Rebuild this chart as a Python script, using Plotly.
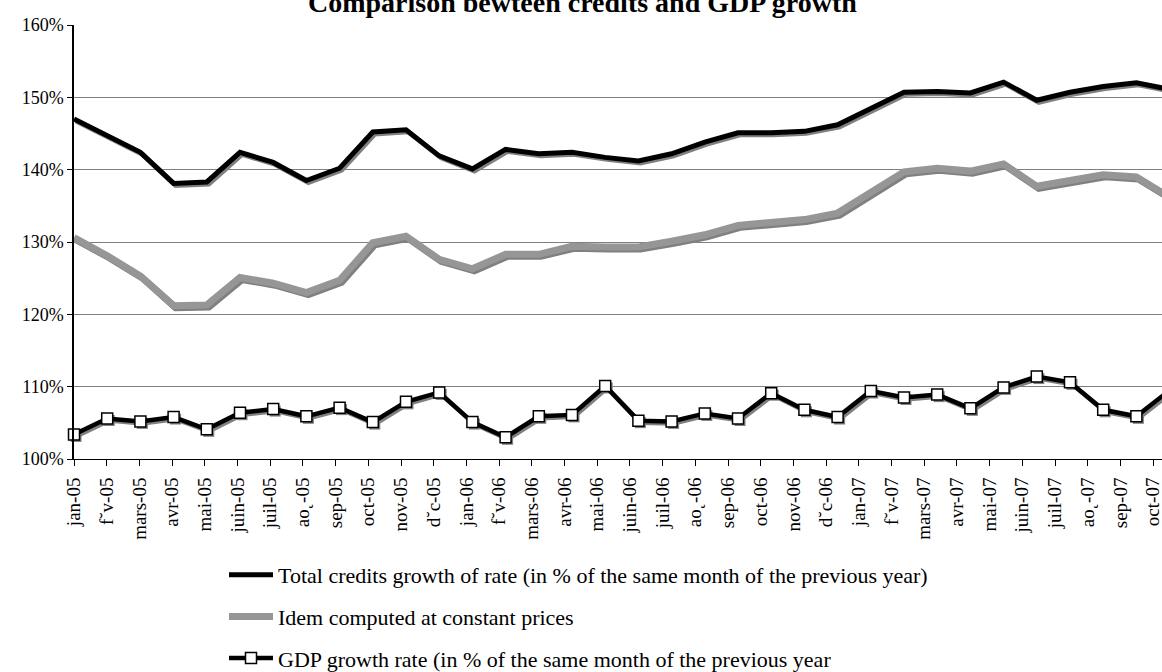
import plotly.graph_objects as go

# Monthly observations, January 2005 to October 2007
months = [
    "jan-05", "f˘v-05", "mars-05", "avr-05", "mai-05", "juin-05", "juil-05", "ao˛-05",
    "sep-05", "oct-05", "nov-05", "d˘c-05",
    "jan-06", "f˘v-06", "mars-06", "avr-06", "mai-06", "juin-06", "juil-06", "ao˛-06",
    "sep-06", "oct-06", "nov-06", "d˘c-06",
    "jan-07", "f˘v-07", "mars-07", "avr-07", "mai-07", "juin-07", "juil-07", "ao˛-07",
    "sep-07", "oct-07",
]

# Growth indices, in % of the same month of the previous year
total_credits = [
    147.0, 144.7, 142.4, 138.1, 138.3, 142.4, 141.0, 138.5, 140.2, 145.2, 145.5, 141.9,
    140.1, 142.8, 142.2, 142.4, 141.7, 141.2, 142.2, 143.8, 145.1, 145.1, 145.3, 146.2,
    148.4, 150.7, 150.8, 150.6, 152.1, 149.6, 150.7, 151.5, 152.0, 151.1,
]
constant_prices = [
    130.6, 128.1, 125.3, 121.2, 121.3, 125.1, 124.3, 123.0, 124.7, 129.9, 130.8, 127.6,
    126.3, 128.3, 128.3, 129.4, 129.3, 129.3, 130.1, 131.0, 132.3, 132.7, 133.1, 134.0,
    136.8, 139.7, 140.2, 139.8, 140.8, 137.7, 138.5, 139.3, 139.0, 136.2,
]
gdp_growth = [
    103.4, 105.6, 105.2, 105.8, 104.1, 106.4, 106.9, 105.9, 107.1, 105.1, 107.9, 109.2,
    105.1, 103.0, 105.9, 106.1, 110.1, 105.3, 105.2, 106.3, 105.6, 109.1, 106.8, 105.8,
    109.4, 108.5, 108.9, 107.0, 109.9, 111.4, 110.6, 106.8, 105.9, 109.5,
]

y_ticks = [100, 110, 120, 130, 140, 150, 160]
y_tick_text = ["100%", "110%", "120%", "130%", "140%", "150%", "160%"]

W, H = 1162, 672
M_L, M_R, M_T, M_B = 74, 0, 25, 213
plot_w = W - M_L - M_R
plot_h = H - M_T - M_B

FONT = "Liberation Serif"
BLACK = "#000000"
GREY = "#969696"
SHADOW = "#808080"

# pixel spacing of the category labels vs. the plotted points
label_step = 32.7
point_step = 33.2
label_range = [0, plot_w / label_step]
point_range = [0, plot_w / point_step]

# drop shadow offset (px)
sh_dx, sh_dy = 2.0, 2.0
y_range = [100, 160]
px_per_unit = plot_h / (y_range[1] - y_range[0])
shadow_x_range = [point_range[0] - sh_dx / point_step, point_range[1] - sh_dx / point_step]
shadow_y_range = [y_range[0] + sh_dy / px_per_unit, y_range[1] + sh_dy / px_per_unit]

series = [
    ("Total credits growth of rate (in % of the same month of the previous year)",
     total_credits, BLACK, 5, False),
    ("Idem computed at constant prices", constant_prices, GREY, 7, False),
    ("GDP growth rate (in % of the same month of the previous year",
     gdp_growth, BLACK, 4.5, True),
]

fig = go.Figure()

# category axis carrying the month labels
fig.add_trace(go.Scatter(
    x=list(range(len(months))), y=[None] * len(months), xaxis="x", yaxis="y",
    mode="lines", showlegend=False, hoverinfo="skip",
))

# drop shadows
for name, vals, color, width, markers in series:
    fig.add_trace(go.Scatter(
        x=months, y=vals, xaxis="x2", yaxis="y2",
        mode="lines+markers" if markers else "lines",
        line=dict(color=SHADOW, width=width),
        marker=dict(symbol="square", size=11, color=SHADOW, line=dict(width=0)),
        showlegend=False, hoverinfo="skip", cliponaxis=False,
    ))

# main series
for i, (name, vals, color, width, markers) in enumerate(series):
    fig.add_trace(go.Scatter(
        x=months, y=vals, xaxis="x3", yaxis="y",
        name=name, legendgroup=f"g{i}",
        mode="lines+markers" if markers else "lines",
        line=dict(color=color, width=width),
        marker=dict(symbol="square", size=11, color="white",
                    line=dict(color=BLACK, width=1.5)),
        cliponaxis=False,
    ))

fig.update_layout(
    width=W, height=H,
    margin=dict(l=M_L, r=M_R, t=M_T, b=M_B, pad=0, autoexpand=False),
    paper_bgcolor="white", plot_bgcolor="white",
    font=dict(family=FONT, size=18, color=BLACK),
    xaxis=dict(
        range=label_range,
        tickmode="array", tickvals=list(range(len(months))), ticktext=months,
        tickangle=-90, tickfont=dict(family=FONT, size=19, color=BLACK),
        ticklabeloverflow="allow", ticklabelstandoff=4,
        ticks="outside", ticklen=6, tickcolor=BLACK, tickwidth=1,
        showline=True, linecolor=BLACK, linewidth=1,
        showgrid=False, zeroline=False, fixedrange=True,
    ),
    xaxis2=dict(
        type="category", categoryorder="array", categoryarray=months,
        range=shadow_x_range, overlaying="x", visible=False, fixedrange=True,
    ),
    xaxis3=dict(
        type="category", categoryorder="array", categoryarray=months,
        range=point_range, overlaying="x", visible=False, fixedrange=True,
    ),
    yaxis=dict(
        range=y_range, tickmode="array", tickvals=y_ticks, ticktext=y_tick_text,
        tickfont=dict(family=FONT, size=18, color=BLACK),
        ticks="outside", ticklen=5, tickcolor=BLACK, tickwidth=1,
        showline=True, linecolor=BLACK, linewidth=1.5,
        showgrid=True, gridcolor="#7f7f7f", gridwidth=1, zeroline=False,
        fixedrange=True,
    ),
    yaxis2=dict(
        range=shadow_y_range, overlaying="y", visible=False, fixedrange=True,
    ),
    legend=dict(
        x=(224 - M_L) / plot_w, xanchor="left",
        y=-(554 - (M_T + plot_h)) / plot_h, yanchor="top",
        orientation="v", traceorder="grouped", tracegroupgap=10,
        itemwidth=44, font=dict(family=FONT, size=22, color=BLACK),
        bgcolor="rgba(0,0,0,0)",
    ),
    showlegend=True,
)

fig.add_annotation(
    text="<b>Comparison bewteen credits and GDP growth</b>",
    xref="paper", yref="paper",
    x=(582 - M_L) / plot_w, xanchor="center",
    y=1 + 5 / plot_h, yanchor="bottom",
    showarrow=False, font=dict(family=FONT, size=28, color=BLACK),
)

fig.write_html("out.html")
